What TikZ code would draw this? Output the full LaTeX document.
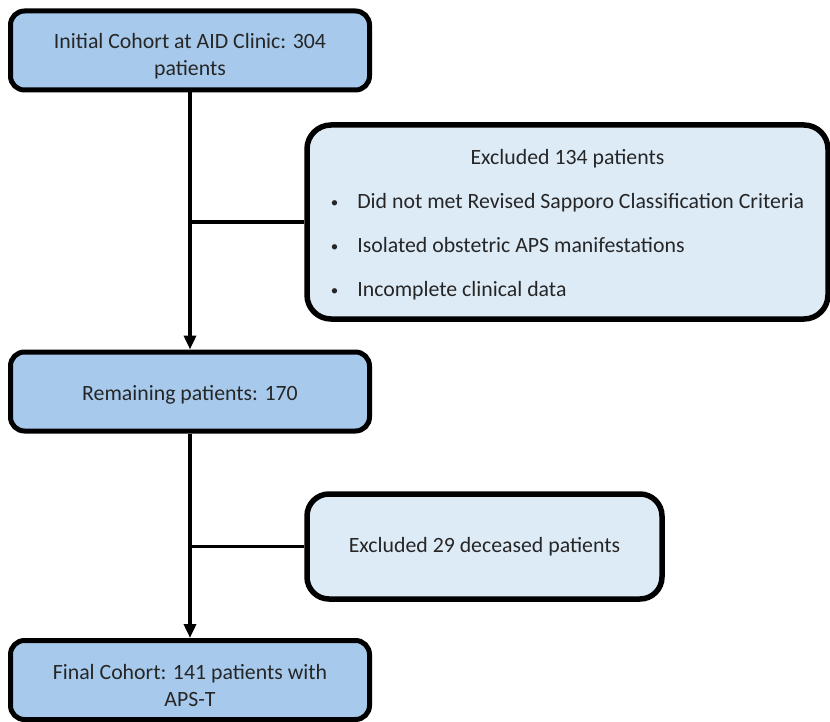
\documentclass[tikz,border=0pt]{standalone}
\usepackage{fontspec}
\setmainfont{Carlito}
\usepackage{xcolor}
\usepackage{tikz}
\usetikzlibrary{arrows.meta}
\definecolor{boxblue}{RGB}{167,202,236}
\definecolor{paleblue}{RGB}{221,235,247}
\definecolor{inktext}{RGB}{38,38,38}
\pgfdeclarelayer{edgelayer}
\pgfdeclarelayer{nodelayer}
\pgfsetlayers{edgelayer,nodelayer,main}
\newcommand{\smallbullet}{\raisebox{1.5pt}{\fontsize{15}{15}\selectfont\textbullet}}
\tikzstyle{none}=[inner sep=0pt]
\tikzstyle{stage}=[rectangle,rounded corners=14pt,fill=boxblue,draw=black,line width=5pt,minimum width=359pt,minimum height=79pt,align=center,text height=22pt,text=inktext,font=\fontsize{21.8}{27}\selectfont]
\tikzstyle{twoline}=[text height=54pt]
\tikzstyle{excluded}=[rectangle,rounded corners=24pt,fill=paleblue,draw=black,line width=5.5pt,align=center,text=inktext,font=\fontsize{21.8}{44}\selectfont]
\tikzstyle{flow}=[-{Triangle[width=12pt,length=14pt]},line width=3.5pt]
\tikzstyle{branch}=[-,line width=3.5pt]

\begin{document}
\begin{tikzpicture}[x=1pt,y=-1pt]
	\useasboundingbox (0,0) rectangle (830,722);
	\begin{pgfonlayer}{nodelayer}
		\node [style=stage, style=twoline] (init) at (190, 50.5) {Initial Cohort at AID Clinic: 304\\patients};
		\node [style=excluded, minimum width=521pt, minimum height=194pt] (excl) at (567.5, 222) {%
			\begin{tabular}{@{}l@{\hspace{19pt}}l@{}}
			\multicolumn{2}{c}{Excluded 134 patients}\\
			\smallbullet & Did not met Revised Sapporo Classification Criteria\\
			\smallbullet & Isolated obstetric APS manifestations\\
			\smallbullet & Incomplete clinical data
			\end{tabular}};
		\node [style=stage] (remain) at (190, 391.5) {Remaining patients: 170};
		\node [style=excluded, rounded corners=22pt, minimum width=355pt, minimum height=105pt] (dead) at (484.5, 546.5) {Excluded 29 deceased patients};
		\node [style=stage, style=twoline] (final) at (190, 680) {Final Cohort: 141 patients with\\APS-T};
	\end{pgfonlayer}
	\begin{pgfonlayer}{edgelayer}
		\draw [style=flow] (init) to (remain);
		\draw [style=flow] (remain) to (final);
		\draw [style=branch] (init.south |- excl.west) to (excl.west);
		\draw [style=branch] (remain.south |- dead.west) to (dead.west);
	\end{pgfonlayer}
\end{tikzpicture}
\end{document}
